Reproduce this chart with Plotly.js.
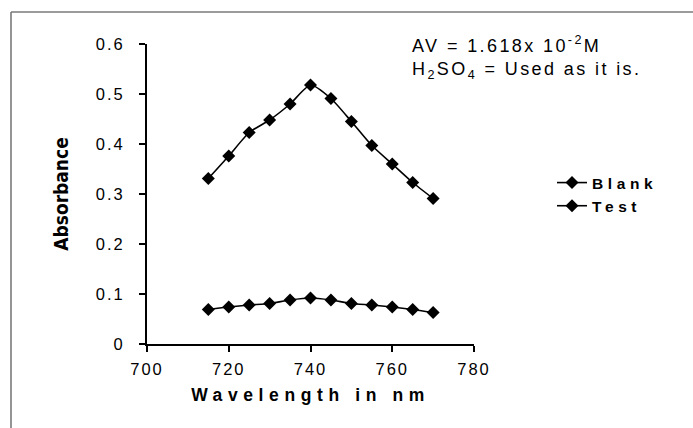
<!DOCTYPE html>
<html>
<head>
<meta charset="utf-8">
<script src="https://cdn.plot.ly/plotly-3.0.1.min.js"></script>
<style>
  html, body { margin: 0; padding: 0; background: #fff; }
  #chart { width: 693px; height: 428px; }
  .xtitle { letter-spacing: 5.6px; }
  .legendtext { letter-spacing: 4.6px; }
  .xtick text, .ytick text { letter-spacing: 2px; }
  .annotation-text { letter-spacing: 2.4px; }
</style>
</head>
<body>
<div id="chart"></div>
<script>
// Wavelength scan (nm)
const wavelength = [715, 720, 725, 730, 735, 740, 745, 750, 755, 760, 765, 770];
// Absorbance of the blank
const blankAbs = [0.069, 0.074, 0.078, 0.081, 0.088, 0.092, 0.088, 0.081, 0.078, 0.074, 0.069, 0.063];
// Absorbance of the test solution
const testAbs = [0.331, 0.376, 0.423, 0.448, 0.480, 0.518, 0.491, 0.445, 0.397, 0.360, 0.323, 0.291];

const xTicks = [700, 720, 740, 760, 780];
const yTicks = [0, 0.1, 0.2, 0.3, 0.4, 0.5, 0.6];
const yTickText = ['0', '0.1', '0.2', '0.3', '0.4', '0.5', '0.6'];

const lineStyle = { color: '#000', width: 1.6, shape: 'spline', smoothing: 0.6 };
const markerStyle = { symbol: 'diamond', size: 10, color: '#000' };

const traces = [
  { x: wavelength, y: blankAbs, name: 'Blank', mode: 'lines+markers',
    line: lineStyle, marker: markerStyle },
  { x: wavelength, y: testAbs, name: 'Test', mode: 'lines+markers',
    line: lineStyle, marker: markerStyle }
];

// page frame (grey rule along top and left)
const L = 147, R = 693 - 474, T = 44, B = 428 - 344;
const pw = 693 - L - R, ph = 428 - T - B;
const px = v => (v - L) / pw;
const py = v => (428 - B - v) / ph;

const layout = {
  width: 693, height: 428,
  margin: { l: L, r: R, t: T, b: B },
  paper_bgcolor: '#fff', plot_bgcolor: '#fff',
  font: { family: 'Liberation Sans, Arial, sans-serif', color: '#000', size: 16 },
  showlegend: true,
  legend: {
    x: px(552), y: py(166), xanchor: 'left', yanchor: 'top',
    font: { size: 15.5, family: 'Liberation Sans, Arial, sans-serif', weight: 'bold' },
    bgcolor: 'rgba(0,0,0,0)', tracegroupgap: 0
  },
  xaxis: {
    range: [700, 780], tickvals: xTicks, ticktext: xTicks.map(String),
    showline: true, linecolor: '#000', linewidth: 2,
    ticks: 'outside', ticklen: 6, tickwidth: 2, tickcolor: '#000',
    showgrid: false, zeroline: false,
    ticklabelstandoff: 3,
    tickfont: { size: 16.5 },
    title: { text: 'Wavelength in nm', standoff: 12,
      font: { size: 17.5, weight: 'bold', family: 'Liberation Sans, Arial, sans-serif' } }
  },
  yaxis: {
    range: [0, 0.6], tickvals: yTicks, ticktext: yTickText,
    showline: true, linecolor: '#000', linewidth: 2,
    ticks: 'outside', ticklen: 6, tickwidth: 2, tickcolor: '#000',
    showgrid: false, zeroline: false,
    ticklabelstandoff: 11,
    tickfont: { size: 16.5 },
    title: { text: 'Absorbance', standoff: 22,
      font: { size: 19, weight: 'bold', family: 'Liberation Sans Narrow, DejaVu Sans Condensed, sans-serif' } }
  },
  annotations: [
    { xref: 'paper', yref: 'paper', x: px(410), y: py(45), xanchor: 'left', yanchor: 'middle',
      showarrow: false, text: 'AV = 1.618x 10<sup>-2</sup>M', font: { size: 18 } },
    { xref: 'paper', yref: 'paper', x: px(410), y: py(70), xanchor: 'left', yanchor: 'middle',
      showarrow: false, text: 'H<sub>2</sub>SO<sub>4</sub> = Used as it is.', font: { size: 18 } }
  ],
  shapes: [
    { type: 'line', xref: 'paper', yref: 'paper', x0: px(11), x1: px(693), y0: py(12), y1: py(12),
      line: { color: '#7a7a7a', width: 1.6 } },
    { type: 'line', xref: 'paper', yref: 'paper', x0: px(11), x1: px(11), y0: py(12), y1: py(428),
      line: { color: '#7a7a7a', width: 1.6 } }
  ]
};

Plotly.newPlot('chart', traces, layout, { displayModeBar: false, staticPlot: true });
</script>
</body>
</html>
